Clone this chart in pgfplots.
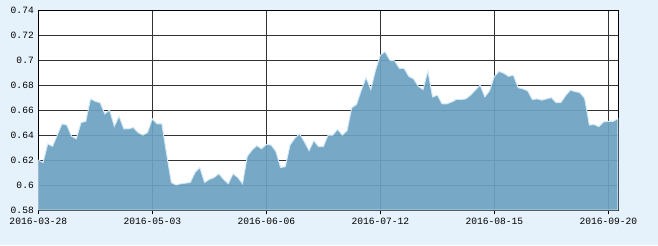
\documentclass[border=0pt]{standalone}
\usepackage{fontspec}
\setmainfont{Liberation Mono}
\setmonofont{Liberation Mono}
\usepackage{pgfplots}
\pgfplotsset{compat=1.18}
\definecolor{bgc}{HTML}{E6F2FB}
\definecolor{areac}{HTML}{6CA2C2}
\definecolor{edgec}{HTML}{D2E8F6}
\definecolor{gridc}{HTML}{333333}
\begin{document}
\begin{tikzpicture}[x=1bp,y=1bp]
\fill[bgc] (0,0) rectangle (658,245);
\useasboundingbox (0,0) rectangle (658,245);
\begin{axis}[
  at={(38.3bp,35bp)}, anchor=south west,
  scale only axis, width=580bp, height=199.7bp,
  xmin=0, xmax=122.1, ymin=0.58, ymax=0.74,
  axis background/.style={fill=white},
  xtick={0,24,48,72,96,120},
  xticklabels={2016-03-28,2016-05-03,2016-06-06,2016-07-12,2016-08-15,2016-09-20},
  ytick={0.58,0.6,0.62,0.64,0.66,0.68,0.7,0.72,0.74},
  yticklabels={0.58,0.6,0.62,0.64,0.66,0.68,0.7,0.72,0.74},
  grid=major,
  major grid style={draw=gridc, line width=0.8bp},
  axis line style={draw=black, line width=0.9bp},
  xtick pos=bottom, xtick align=outside,
  major tick length=4bp,
  ytick style={draw=none},
  xtick style={draw=black, line width=0.8bp},
  ticklabel style={font=\fontsize{9.6bp}{11bp}\selectfont, text=black},
  /pgf/number format/assume math mode=true,
  yticklabel style={xshift=-1bp},
  xticklabel style={yshift=-1bp},
  axis on top=false,
]
\addplot[fill=areac, fill opacity=0.92, draw=edgec, line width=0.9bp] table[x=i,y=v] {
i v
0 0.620
1 0.618
2 0.633
3 0.631
4 0.640
5 0.649
6 0.648
7 0.639
8 0.637
9 0.650
10 0.651
11 0.669
12 0.667
13 0.666
14 0.657
15 0.660
16 0.647
17 0.655
18 0.645
19 0.645
20 0.646
21 0.642
22 0.640
23 0.642
24 0.653
25 0.649
26 0.649
27 0.625
28 0.602
29 0.600
30 0.601
31 0.6015
32 0.602
33 0.610
34 0.614
35 0.602
36 0.6045
37 0.606
38 0.609
39 0.6045
40 0.601
41 0.609
42 0.606
43 0.601
44 0.623
45 0.628
46 0.6315
47 0.629
48 0.6325
49 0.632
50 0.627
51 0.614
52 0.6147
53 0.632
54 0.6375
55 0.641
56 0.6347
57 0.6275
58 0.6355
59 0.6307
60 0.6307
61 0.640
62 0.640
63 0.6446
64 0.640
65 0.6435
66 0.662
67 0.6645
68 0.676
69 0.686
70 0.6765
71 0.692
72 0.704
73 0.7068
74 0.700
75 0.6995
76 0.6935
77 0.6935
78 0.687
79 0.685
80 0.679
81 0.6765
82 0.6913
83 0.6705
84 0.672
85 0.665
86 0.665
87 0.6665
88 0.6685
89 0.6685
90 0.669
91 0.672
92 0.676
93 0.680
94 0.6705
95 0.6755
96 0.687
97 0.691
98 0.6895
99 0.687
100 0.688
101 0.678
102 0.677
103 0.6755
104 0.6685
105 0.669
106 0.668
107 0.669
108 0.670
109 0.666
110 0.666
111 0.6715
112 0.676
113 0.6748
114 0.674
115 0.6695
116 0.648
117 0.6485
118 0.6467
119 0.6505
120 0.651
121 0.651
122 0.653
} \closedcycle;
\end{axis}
\end{tikzpicture}
\end{document}
